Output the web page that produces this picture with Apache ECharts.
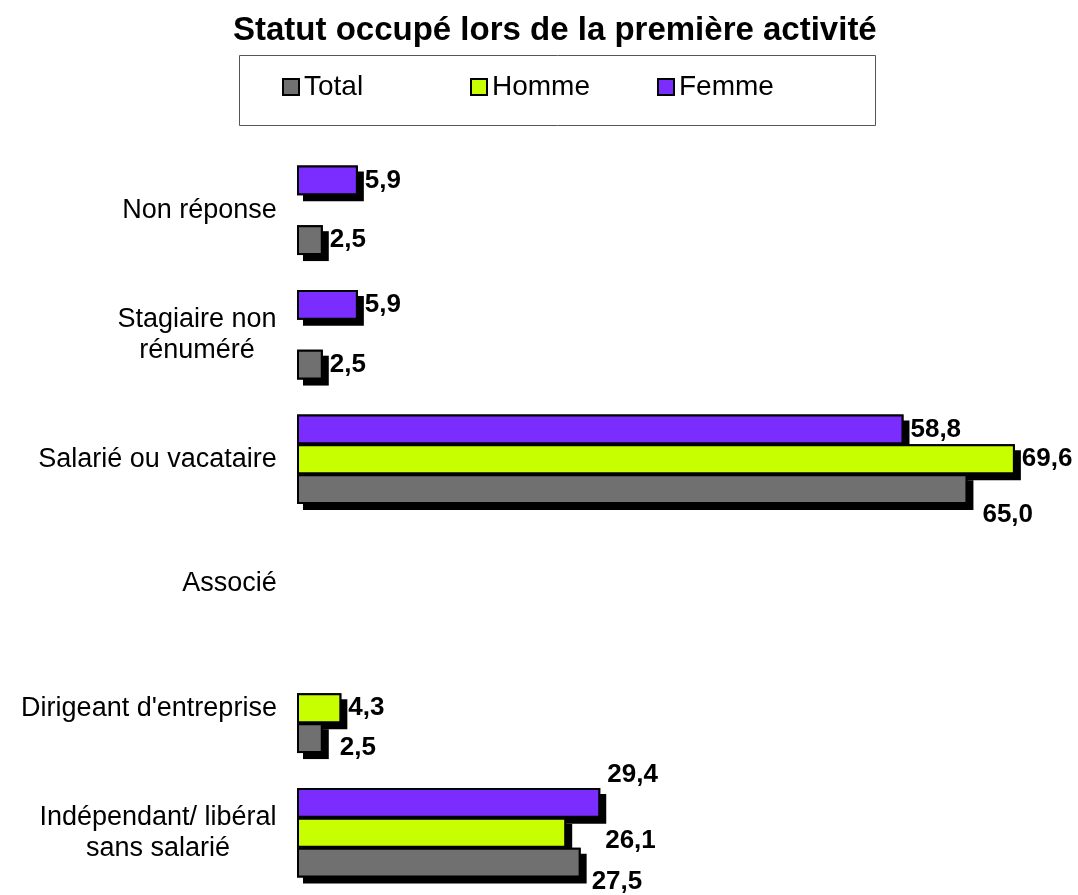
<!DOCTYPE html>
<html>
<head>
<meta charset="utf-8">
<title>Statut occupé lors de la première activité</title>
<script src="https://cdn.jsdelivr.net/npm/echarts@6/dist/echarts.min.js"></script>
<style>
  html, body { margin: 0; padding: 0; background: #fff; }
  #chart { width: 1078px; height: 895px; }
</style>
</head>
<body>
<div id="chart"></div>
<script>
// données
const categories = [
  'Non réponse',
  'Stagiaire non\nrénuméré',
  'Salarié ou vacataire',
  'Associé',
  "Dirigeant d'entreprise",
  'Indépendant/ libéral\nsans salarié'
];
const seriesNames = ['Total', 'Homme', 'Femme'];
const total = [2.5, 2.5, 65.0, null, 2.5, 27.5];
const homme = [null, null, 69.6, null, 4.3, 26.1];
const femme = [5.9, 5.9, 58.8, null, null, 29.4];

const FONT = '"Liberation Sans", Arial, sans-serif';
const colors = { Total: '#707070', Homme: '#c8ff00', Femme: '#7b2cff' };

// petits décalages des étiquettes, comme sur l'original
const labelShift = {
  'Total-2': [8, 26],
  'Total-4': [10, 10],
  'Total-5': [4, 19],
  'Homme-5': [32, 8],
  'Femme-5': [0, -28]
};

// largeur des libellés sur deux lignes (lignes centrées entre elles)
const measure = document.createElement('canvas').getContext('2d');
measure.font = '27px ' + FONT;
const rich = {};
categories.forEach((c, i) => {
  const w = Math.max(...c.split('\n').map(s => measure.measureText(s).width));
  rich['c' + i] = { width: Math.ceil(w) + 2, align: 'center', fontSize: 27, fontFamily: FONT, color: '#000', lineHeight: 31 };
});

// barres "ombre" (axe caché), dessinées sous les vraies barres
function makeShadow(name, values) {
  return {
    name: 'ombre ' + name,
    type: 'bar',
    yAxisIndex: 1,
    barGap: '0%',
    barCategoryGap: '28%',
    silent: true,
    data: values,
    itemStyle: {
      color: '#000',
      shadowColor: '#000',
      shadowOffsetX: 6,
      shadowOffsetY: 6,
      shadowBlur: 0
    },
    label: { show: false },
    emphasis: { disabled: true }
  };
}

function makeSeries(name, values) {
  return {
    name: name,
    type: 'bar',
    yAxisIndex: 0,
    barGap: '0%',
    barCategoryGap: '28%',
    data: values.map((v, i) => {
      const item = { value: v };
      const s = labelShift[name + '-' + i];
      if (s) item.label = { offset: s };
      return item;
    }),
    itemStyle: {
      color: colors[name],
      borderColor: '#000',
      borderWidth: 2
    },
    label: {
      show: true,
      position: 'right',
      distance: 7,
      fontFamily: FONT,
      fontSize: 26,
      fontWeight: 'bold',
      color: '#000',
      formatter: p => p.value == null ? '' : p.value.toFixed(1).replace('.', ',')
    },
    emphasis: { disabled: true }
  };
}

// une légende par série pour garder l'espacement régulier
const legendLeft = [282, 470, 657];
const legends = seriesNames.map((name, i) => ({
  data: [name],
  left: legendLeft[i],
  top: 73,
  padding: 0,
  icon: 'rect',
  itemWidth: 16,
  itemHeight: 16,
  itemStyle: { borderColor: '#000', borderWidth: 2 },
  textStyle: { fontFamily: FONT, fontSize: 28, color: '#000' }
}));

const chart = echarts.init(document.getElementById('chart'));
chart.setOption({
  animation: false,
  backgroundColor: '#fff',
  title: {
    text: 'Statut occupé lors de la première activité',
    left: 233,
    top: 14,
    padding: 0,
    textStyle: { fontFamily: FONT, fontSize: 33, fontWeight: 'bold', color: '#000' }
  },
  // cadre de la légende
  graphic: [{
    type: 'rect',
    left: 237,
    top: 53,
    shape: { width: 636, height: 70 },
    style: { fill: 'none', stroke: '#555', lineWidth: 1 },
    silent: true,
    z: 0
  }],
  legend: legends,
  grid: { left: 297, right: 59, top: 148, bottom: 0, containLabel: false },
  xAxis: {
    type: 'value',
    min: 0,
    max: 70,
    show: false
  },
  yAxis: [
    {
      type: 'category',
      inverse: true,
      data: categories,
      axisLine: { show: false },
      axisTick: { show: false },
      splitLine: { show: false },
      axisLabel: {
        margin: 19,
        align: 'right',
        formatter: (v, i) => v.split('\n').map(s => '{c' + i + '|' + s + '}').join('\n'),
        rich: rich
      }
    },
    {
      type: 'category',
      inverse: true,
      data: categories,
      show: false
    }
  ],
  // Femme en haut de chaque groupe, Total en bas
  series: [
    makeShadow('Femme', femme),
    makeShadow('Homme', homme),
    makeShadow('Total', total),
    makeSeries('Femme', femme),
    makeSeries('Homme', homme),
    makeSeries('Total', total)
  ]
});
</script>
</body>
</html>
